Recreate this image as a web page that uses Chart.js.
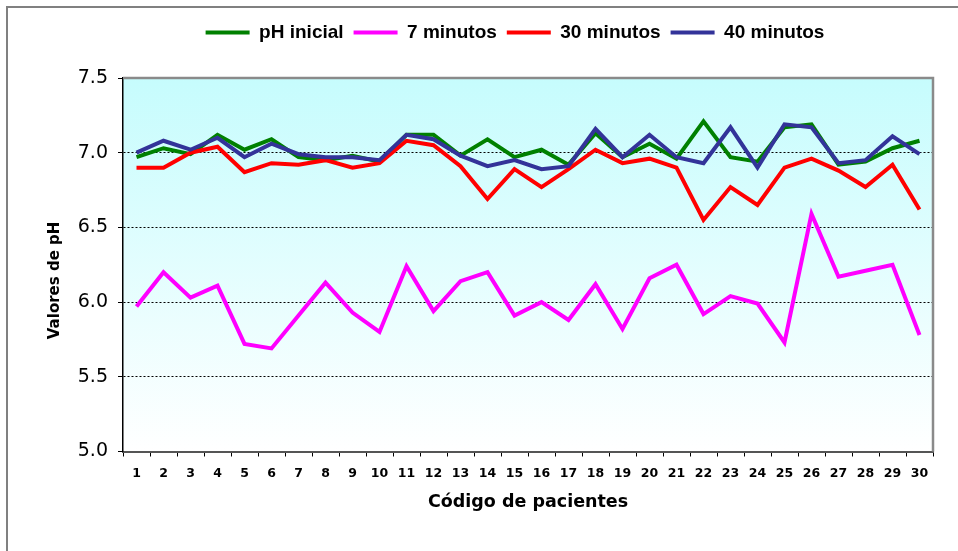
<!DOCTYPE html>
<html>
<head>
<meta charset="utf-8">
<script src="https://cdn.jsdelivr.net/npm/chart.js@4.4.0/dist/chart.umd.min.js"></script>
<style>
  body { margin: 0; background: #fff; }
  canvas { display: block; }
</style>
</head>
<body>
<canvas id="phChart"></canvas>
<script>
const pacientes = ['1','2','3','4','5','6','7','8','9','10','11','12','13','14','15',
                   '16','17','18','19','20','21','22','23','24','25','26','27','28','29','30'];

const phInicial = [6.97, 7.03, 6.99, 7.12, 7.02, 7.09, 6.97, 6.95, 6.98, 6.94,
                   7.12, 7.12, 6.98, 7.09, 6.97, 7.02, 6.92, 7.13, 6.97, 7.06,
                   6.96, 7.21, 6.97, 6.94, 7.17, 7.19, 6.92, 6.94, 7.03, 7.08];

const min7 = [5.97, 6.20, 6.03, 6.11, 5.72, 5.69, 5.91, 6.13, 5.93, 5.80,
              6.24, 5.94, 6.14, 6.20, 5.91, 6.00, 5.88, 6.12, 5.82, 6.16,
              6.25, 5.92, 6.04, 5.99, 5.73, 6.59, 6.17, 6.21, 6.25, 5.78];

const min30 = [6.90, 6.90, 7.00, 7.04, 6.87, 6.93, 6.92, 6.95, 6.90, 6.93,
               7.08, 7.05, 6.91, 6.69, 6.89, 6.77, 6.89, 7.02, 6.93, 6.96,
               6.90, 6.55, 6.77, 6.65, 6.90, 6.96, 6.88, 6.77, 6.92, 6.62];

const min40 = [7.00, 7.08, 7.02, 7.10, 6.97, 7.06, 6.99, 6.97, 6.97, 6.95,
               7.12, 7.09, 6.98, 6.91, 6.95, 6.89, 6.91, 7.16, 6.97, 7.12,
               6.97, 6.93, 7.17, 6.90, 7.19, 7.17, 6.93, 6.95, 7.11, 6.99];

const yMin = 5.0;
const yMax = 7.5;
const yStep = 0.5;

// background gradient, plot border and the outer frame of the picture
const plotFrame = {
  id: 'plotFrame',
  beforeDraw(chart) {
    const { ctx, chartArea: a } = chart;
    ctx.save();
    ctx.strokeStyle = '#808080';
    ctx.lineWidth = 2;
    ctx.beginPath();
    ctx.moveTo(7, chart.height);
    ctx.lineTo(7, 7);
    ctx.lineTo(chart.width, 7);
    ctx.stroke();

    const g = ctx.createLinearGradient(0, a.top, 0, a.bottom);
    g.addColorStop(0, '#c6fcfd');
    g.addColorStop(1, '#ffffff');
    ctx.fillStyle = g;
    ctx.fillRect(a.left, a.top, a.right - a.left, a.bottom - a.top);
    ctx.restore();
  },
  afterDraw(chart) {
    const { ctx, chartArea: a } = chart;
    ctx.save();
    ctx.strokeStyle = '#8a8a8a';
    ctx.lineWidth = 2.5;
    ctx.beginPath();
    ctx.moveTo(a.left, a.top);
    ctx.lineTo(a.right, a.top);
    ctx.lineTo(a.right, a.bottom);
    ctx.stroke();
    ctx.restore();
  }
};

// legend needs more room below it and sits a bit left of the plot centre
const legendTweak = {
  id: 'legendTweak',
  beforeInit(chart) {
    const legend = chart.legend;
    const fit = legend.fit;
    legend.fit = function () {
      fit.call(this);
      this.height = 65;
    };
  },
  afterLayout(chart) {
    chart.legend.left -= 13;
    chart.legend.right -= 13;
  }
};

Chart.defaults.font.family = 'DejaVu Sans';
Chart.defaults.color = '#000';

function series(label, data, color, order) {
  return {
    label, data, order,
    borderColor: color,
    backgroundColor: color,
    pointBorderColor: color,
    pointBackgroundColor: color,
    pointBorderWidth: 4
  };
}

const canvas = document.getElementById('phChart');
canvas.width = 958;
canvas.height = 551;

new Chart(canvas.getContext('2d'), {
  type: 'line',
  data: {
    labels: pacientes,
    datasets: [
      series('pH inicial', phInicial, '#008000', 4),
      series('7 minutos', min7, '#ff00ff', 3),
      series('30 minutos', min30, '#ff0000', 2),
      series('40 minutos', min40, '#333399', 1)
    ]
  },
  options: {
    responsive: false,
    animation: false,
    layout: { padding: { top: 13, left: 0, right: 25, bottom: 0 } },
    elements: {
      line: { borderWidth: 4, tension: 0, fill: false },
      point: { radius: 0, hoverRadius: 0 }
    },
    plugins: {
      legend: {
        position: 'top',
        fullSize: false,
        labels: {
          usePointStyle: true,
          pointStyle: 'line',
          pointStyleWidth: 44,
          padding: 10,
          color: '#000',
          font: { family: 'Liberation Sans', size: 19, weight: 'bold' },
          sort: (a, b) => a.datasetIndex - b.datasetIndex
        }
      },
      tooltip: { enabled: false }
    },
    scales: {
      x: {
        type: 'category',
        offset: true,
        afterFit(scale) { scale.height = 99.5; },
        grid: {
          offset: true,
          drawOnChartArea: false,
          drawTicks: true,
          tickLength: 5,
          tickColor: '#000'
        },
        border: { display: true, color: '#555', width: 2 },
        ticks: {
          autoSkip: false,
          maxRotation: 0,
          padding: 10,
          font: { size: 12.5, weight: 'bold' }
        },
        title: {
          display: true,
          text: 'Código de pacientes',
          font: { size: 17.5, weight: 'bold' },
          padding: { top: 0, bottom: 38.5 }
        }
      },
      y: {
        min: yMin,
        max: yMax,
        afterFit(scale) { scale.width = 123; },
        ticks: {
          stepSize: yStep,
          padding: 10,
          font: { size: 19 },
          callback: v => v.toFixed(1)
        },
        grid: {
          color: c => (c.tick && (c.tick.value === yMin || c.tick.value === yMax)) ? 'rgba(0,0,0,0)' : '#000',
          lineWidth: 1,
          tickLength: 5,
          tickColor: '#000',
          tickBorderDash: []
        },
        border: { display: true, color: '#000', width: 1.5, dash: [2, 2] },
        title: {
          display: true,
          text: 'Valores de pH      ',
          font: { size: 15, weight: 'bold' },
          padding: { top: 46, bottom: 0 }
        }
      }
    }
  },
  plugins: [plotFrame, legendTweak]
});
</script>
</body>
</html>
